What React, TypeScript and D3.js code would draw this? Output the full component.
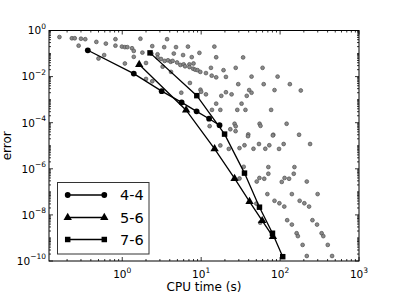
import { useEffect, useRef } from "react";
import * as d3 from "d3";

const width = 399;
const height = 299;

// line series: [CPU time (s), error]
const series44 = [
  [0.366, 0.139], [1.4, 0.0135], [3.16, 0.00234], [5.66, 7.6e-4],
  [8.75, 3.1e-4], [12.6, 1.49e-4], [17.1, 7.8e-5],
];
const series56 = [
  [1.64, 0.0333], [6.45, 3.5e-4], [14.8, 7.4e-6], [26.5, 3.8e-7],
  [41.0, 3.8e-8], [59.3, 5.6e-9], [81.1, 1.14e-9],
];
const series76 = [
  [2.25, 0.107], [8.81, 1.49e-3], [19.8, 3.2e-5], [35.4, 6.5e-7],
  [54.8, 2.16e-8], [80.1, 1.6e-9], [108, 1.54e-10],
];
const seriesNames = ["4-4", "5-6", "7-6"];

// background runs (grey dots): [CPU time (s), error]
const scatter = [
  [0.16, 0.52], [0.23, 0.46], [0.25, 0.46], [0.3, 0.44], [0.34, 0.42],
  [0.82, 0.42], [1.7, 0.44], [3.7, 0.42], [0.47, 0.32], [0.62, 0.27],
  [0.28, 0.22], [0.82, 0.22], [0.99, 0.2], [1.08, 0.19], [1.16, 0.19],
  [1.33, 0.17], [2.4, 0.21], [3.4, 0.19], [4.8, 0.19], [6.8, 0.2],
  [14.7, 0.2], [1.4, 0.13], [1.8, 0.11], [2.34, 0.1], [2.8, 0.093],
  [4.5, 0.1], [5.9, 0.086], [9.5, 0.107], [0.59, 0.086], [1.4, 0.072],
  [0.5, 0.061], [2.8, 0.067], [7.6, 0.07], [15.5, 0.069], [34, 0.068],
  [1.08, 0.037], [2.0, 0.039], [3.1, 0.058], [3.45, 0.048], [3.8, 0.051],
  [4.1, 0.044], [4.35, 0.048], [4.95, 0.041], [5.45, 0.032], [6.0, 0.034],
  [6.25, 0.028], [7.1, 0.034], [7.1, 0.026], [8.0, 0.037], [7.9, 0.022],
  [8.4, 0.02], [9.0, 0.019], [9.75, 0.016], [11.5, 0.0142], [13.3, 0.024],
  [13.6, 0.011], [15.5, 0.0093], [19.2, 0.019], [20.6, 0.0097], [27.4, 0.024],
  [43.5, 0.01], [60, 0.024], [93, 0.01], [3.25, 0.027], [4.15, 0.016],
  [2.0, 0.0079], [2.4, 0.0063], [7.2, 0.0053], [5.6, 0.002], [9.8, 0.0027],
  [10, 0.0022], [11.5, 0.0017], [18, 0.00146], [20.6, 0.0021], [24.3, 0.0017],
  [29.5, 0.0047], [40.6, 0.0026], [43.5, 0.002], [37.8, 0.00146], [62, 0.0047],
  [85, 0.0026], [133, 0.0047], [183, 0.0025], [15.5, 6.7e-4], [13.7, 3.6e-4],
  [17.5, 3.6e-4], [32.5, 6.7e-4], [28.7, 3.6e-4], [36.4, 3.6e-4], [77, 3.6e-4],
  [12.8, 7.1e-5], [26.5, 9.0e-5], [27.4, 7.0e-5], [23.4, 5.2e-5], [27.3, 4.3e-5],
  [55, 9.0e-5], [56.5, 7.3e-5], [121, 9.0e-5], [39.5, 3.1e-5], [39.2, 2.6e-5],
  [82, 3.0e-5], [81, 2.8e-5], [174, 3.0e-5], [17.5, 1.03e-5], [22.4, 7.3e-6],
  [30.6, 7.9e-6], [35.4, 1.05e-5], [46, 7.4e-6], [54, 1.19e-5], [65, 7.4e-6],
  [73, 1.05e-5], [97, 7.3e-6], [111, 1.19e-5], [240, 1.19e-5], [34.6, 1.22e-6],
  [71, 1.19e-6], [152, 1.19e-6], [71, 6.1e-7], [149, 6.1e-7], [30.6, 3.8e-7],
  [50.6, 2.8e-7], [54.7, 4.0e-7], [63, 3.7e-7], [105, 2.7e-7], [114, 4.0e-7],
  [130, 3.7e-7], [218, 2.8e-7], [69, 8.0e-8], [141, 8.0e-8], [299, 8.0e-8],
  [85, 4.1e-8], [98, 3.2e-8], [113, 2.3e-8], [177, 4.1e-8], [203, 3.2e-8],
  [233, 2.3e-8], [50, 3.1e-8], [123, 5.9e-9], [141, 3.8e-9], [257, 5.9e-9],
  [294, 3.8e-9], [162, 1.6e-9], [168, 1.2e-9], [336, 1.6e-9], [353, 1.2e-9],
  [193, 5.0e-10], [402, 5.0e-10], [218, 1.65e-10], [456, 1.65e-10], [56, 4.6e-9],
];

const xTicks = [1, 10, 100, 1000];
const xTickExp = ["0", "1", "2", "3"];
const yTicks = [1, 1e-2, 1e-4, 1e-6, 1e-8, 1e-10];
const yTickExp = ["0", "\u22122", "\u22124", "\u22126", "\u22128", "\u221210"];

const font = "DejaVu Sans";

export default function App() {
  const svgRef = useRef<SVGSVGElement>(null);

  useEffect(() => {
    const svg = d3.select(svgRef.current);
    svg.selectAll("*").remove();

    const left = 49, right = 359, top = 30.5, bottom = 261;
    const x = d3.scaleLog().domain([0.118, 1000]).range([left, right]);
    const y = d3.scaleLog().domain([1e-10, 1]).range([bottom, top]);

    const g = svg.append("g");

    // grey runs
    g.selectAll("circle.run")
      .data(scatter)
      .join("circle")
      .attr("class", "run")
      .attr("cx", (d) => x(d[0]))
      .attr("cy", (d) => y(d[1]))
      .attr("r", 1.9)
      .attr("fill", "#8a8a8a")
      .attr("stroke", "#505050")
      .attr("stroke-width", 0.7);

    const line = d3
      .line<number[]>()
      .x((d) => x(d[0]))
      .y((d) => y(d[1]));

    const symbols = [d3.symbolCircle, d3.symbolTriangle, d3.symbolSquare];
    const sizes = [26, 30, 30];
    const allSeries = [series44, series56, series76];

    allSeries.forEach((s, i) => {
      g.append("path")
        .attr("d", line(s))
        .attr("fill", "none")
        .attr("stroke", "black")
        .attr("stroke-width", 1.3);
      g.selectAll(`path.m${i}`)
        .data(s)
        .join("path")
        .attr("class", `m${i}`)
        .attr("transform", (d) => `translate(${x(d[0])},${y(d[1])})`)
        .attr("d", d3.symbol(symbols[i], sizes[i])())
        .attr("fill", "black");
    });

    // frame
    g.append("rect")
      .attr("x", left)
      .attr("y", top)
      .attr("width", right - left)
      .attr("height", bottom - top)
      .attr("fill", "none")
      .attr("stroke", "black")
      .attr("stroke-width", 1);

    // ticks (inward, all sides)
    const ticks = g.append("g").attr("stroke", "black").attr("stroke-width", 0.8);
    const xMinor: number[] = [];
    for (let k = -1; k <= 2; k++)
      for (let m = 2; m <= 9; m++) {
        const v = m * Math.pow(10, k);
        if (v >= 0.118 && v <= 1000) xMinor.push(v);
      }
    const yMinor: number[] = [];
    for (let k = -10; k <= -1; k++)
      for (let m = 1; m <= 9; m++) {
        if (m === 1 && k % 2 === 0) continue;
        yMinor.push(m * Math.pow(10, k));
      }

    const xt = (vals: number[], len: number) => {
      vals.forEach((v) => {
        const px = x(v);
        ticks.append("line").attr("x1", px).attr("x2", px).attr("y1", bottom).attr("y2", bottom - len);
        ticks.append("line").attr("x1", px).attr("x2", px).attr("y1", top).attr("y2", top + len);
      });
    };
    const yt = (vals: number[], len: number) => {
      vals.forEach((v) => {
        const py = y(v);
        ticks.append("line").attr("x1", left).attr("x2", left + len).attr("y1", py).attr("y2", py);
        ticks.append("line").attr("x1", right).attr("x2", right - len).attr("y1", py).attr("y2", py);
      });
    };
    xt(xTicks, 4);
    xt(xMinor, 2);
    yt(yTicks, 4);
    yt(yMinor, 2);

    // tick labels
    xTicks.forEach((v, i) => {
      const t = g
        .append("text")
        .attr("x", x(v))
        .attr("y", 278)
        .attr("text-anchor", "middle")
        .attr("font-family", font)
        .attr("font-size", 10.5);
      t.append("tspan").text("10");
      t.append("tspan").attr("dy", -5.5).attr("font-size", 7.5).text(xTickExp[i]);
    });
    yTicks.forEach((v, i) => {
      const t = g
        .append("text")
        .attr("x", 46)
        .attr("y", y(v) + 3.8)
        .attr("text-anchor", "end")
        .attr("font-family", font)
        .attr("font-size", 10.5);
      t.append("tspan").text("10");
      t.append("tspan").attr("dy", -5.5).attr("font-size", 7.5).text(yTickExp[i]);
    });

    // axis titles
    g.append("text")
      .attr("x", (left + right) / 2)
      .attr("y", 291)
      .attr("text-anchor", "middle")
      .attr("font-family", font)
      .attr("font-size", 12)
      .text("CPU time (s)");
    g.append("text")
      .attr("transform", `translate(11,${(top + bottom) / 2}) rotate(-90)`)
      .attr("text-anchor", "middle")
      .attr("font-family", font)
      .attr("font-size", 12)
      .text("error");

    // legend
    const lg = g.append("g");
    lg.append("rect")
      .attr("x", 57.5)
      .attr("y", 182.5)
      .attr("width", 91.5)
      .attr("height", 71.5)
      .attr("fill", "white")
      .attr("stroke", "#333")
      .attr("stroke-width", 1);
    const rows = [195, 217.5, 239.5];
    seriesNames.forEach((name, i) => {
      lg.append("line")
        .attr("x1", 67.7)
        .attr("x2", 104.3)
        .attr("y1", rows[i])
        .attr("y2", rows[i])
        .attr("stroke", "black")
        .attr("stroke-width", 1.3);
      [67.7, 104.3].forEach((px) => {
        lg.append("path")
          .attr("transform", `translate(${px},${rows[i]})`)
          .attr("d", d3.symbol(symbols[i], sizes[i])())
          .attr("fill", "black");
      });
      lg.append("text")
        .attr("x", 120)
        .attr("y", rows[i] + 5.2)
        .attr("font-family", font)
        .attr("font-size", 14.5)
        .text(name);
    });
  }, []);

  return (
    <svg
      ref={svgRef}
      width={width}
      height={height}
      style={{ position: "absolute", left: 0, top: 0, background: "white" }}
    />
  );
}
